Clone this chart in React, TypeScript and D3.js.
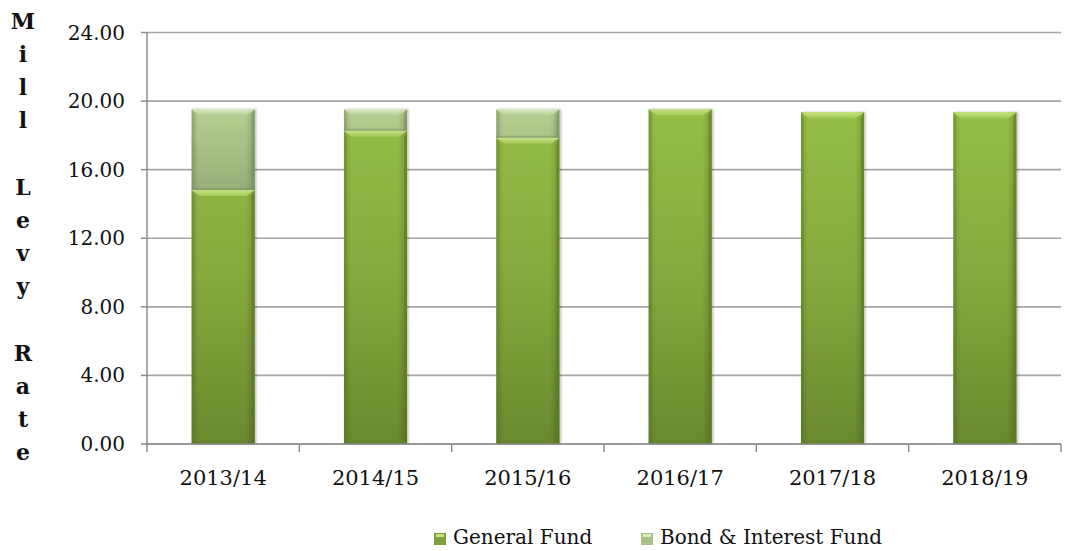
import React from "react";
import * as d3 from "d3";

const years = ["2013/14", "2014/15", "2015/16", "2016/17", "2017/18", "2018/19"];
const generalFund = [14.81, 18.27, 17.86, 19.52, 19.35, 19.35];
const bondFund = [4.71, 1.25, 1.66, 0, 0, 0];
const seriesNames = ["General Fund", "Bond & Interest Fund"];
const yTicks = [0, 4, 8, 12, 16, 20, 24];
const titleLetters = ["M", "i", "l", "l", "", "L", "e", "v", "y", "", "R", "a", "t", "e"];

const W = 1071;
const H = 551;
const left = 147;
const right = 1061;
const top = 32.5;
const bottom = 444;
const font = "'DejaVu Serif', Georgia, serif";

// fill schemes per series
const palette = [
  { grad: "gfMain", cap: "#c8e283", capLow: "#a3c957", edge: "#5d7a24" },
  { grad: "bfMain", cap: "#dcebc2", capLow: "#b7ce93", edge: "#7b8f5c" },
];

const Segment = ({ x, w, y0, y1, s }: { x: number; w: number; y0: number; y1: number; s: number }) => {
  const h = y1 - y0;
  if (h <= 0) return null;
  const p = palette[s];
  const b = Math.min(6, h / 3);
  const e = 3;
  return (
    <g>
      <rect x={x} y={y0} width={w} height={h} fill={`url(#${p.grad})`} />
      <rect x={x} y={y0} width={w} height={h} fill="url(#sideShade)" />
      <polygon points={`${x},${y0} ${x + e},${y0 + b} ${x + e},${y1 - 2} ${x},${y1}`} fill={p.edge} opacity={0.35} />
      <polygon points={`${x + w},${y0} ${x + w - e},${y0 + b} ${x + w - e},${y1 - 2} ${x + w},${y1}`} fill={p.edge} opacity={0.6} />
      <polygon
        points={`${x},${y0} ${x + w},${y0} ${x + w - b - 2},${y0 + b} ${x + b + 2},${y0 + b}`}
        fill={`url(#cap${s})`}
      />
      <rect x={x} y={y1 - 2} width={w} height={2} fill={p.edge} opacity={0.45} />
    </g>
  );
};

export default function App() {
  const x = d3.scaleBand<string>().domain(years).range([left, right]).paddingInner(0.586).paddingOuter(0.293);
  const y = d3.scaleLinear().domain([0, 24]).range([bottom, top]);
  const step = (right - left) / years.length;

  const table = years.map((yr, i) => ({ year: yr, g: generalFund[i], b: bondFund[i] }));
  const stacked = d3.stack<any>().keys(["g", "b"])(table);

  return (
    <svg width={W} height={H} style={{ position: "absolute", left: 0, top: 0, background: "#fff" }}>
      <defs>
        <linearGradient id="gfMain" gradientUnits="userSpaceOnUse" x1="0" y1={y(20)} x2="0" y2={bottom}>
          <stop offset="0" stopColor="#96bf48" />
          <stop offset="0.5" stopColor="#86aa3e" />
          <stop offset="1" stopColor="#6a892e" />
        </linearGradient>
        <linearGradient id="bfMain" gradientUnits="userSpaceOnUse" x1="0" y1={y(20)} x2="0" y2={y(14)}>
          <stop offset="0" stopColor="#b9d293" />
          <stop offset="1" stopColor="#93a874" />
        </linearGradient>
        <linearGradient id="sideShade" x1="0" y1="0" x2="1" y2="0">
          <stop offset="0" stopColor="#000" stopOpacity="0.12" />
          <stop offset="0.12" stopColor="#000" stopOpacity="0" />
          <stop offset="0.85" stopColor="#000" stopOpacity="0" />
          <stop offset="1" stopColor="#000" stopOpacity="0.18" />
        </linearGradient>
        {palette.map((p, i) => (
          <linearGradient key={i} id={`cap${i}`} x1="0" y1="0" x2="0" y2="1">
            <stop offset="0" stopColor={p.cap} />
            <stop offset="1" stopColor={p.capLow} />
          </linearGradient>
        ))}
        <filter id="shadow" x="-10%" y="-10%" width="130%" height="120%">
          <feDropShadow dx="1.5" dy="0" stdDeviation="1.2" floodColor="#000" floodOpacity="0.25" />
        </filter>
      </defs>

      {/* gridlines */}
      {yTicks.map((t) => (
        <line key={t} x1={left} x2={right} y1={y(t)} y2={y(t)} stroke="#a6a6a6" strokeWidth={1.6} />
      ))}

      {/* bars */}
      {years.map((yr, i) => (
        <g key={yr} filter="url(#shadow)">
          {stacked.map((layer, s) => (
            <Segment key={s} x={x(yr)!} w={x.bandwidth()} y0={y(layer[i][1])} y1={y(layer[i][0])} s={s} />
          ))}
        </g>
      ))}

      {/* axes */}
      <line x1={left} x2={left} y1={top} y2={bottom + 8} stroke="#8c8c8c" strokeWidth={1.5} />
      <line x1={left} x2={right} y1={bottom} y2={bottom} stroke="#8c8c8c" strokeWidth={1.5} />
      {yTicks.map((t) => (
        <line key={t} x1={left - 6} x2={left} y1={y(t)} y2={y(t)} stroke="#8c8c8c" strokeWidth={1.5} />
      ))}
      {years.map((yr, i) => (
        <line key={yr} x1={left + step * (i + 1)} x2={left + step * (i + 1)} y1={bottom} y2={bottom + 8} stroke="#8c8c8c" strokeWidth={1.5} />
      ))}

      {/* tick labels */}
      {yTicks.map((t) => (
        <text key={t} x={125} y={y(t)} dy="0.35em" textAnchor="end" fontFamily={font} fontSize={20} fill="#111">
          {d3.format(".2f")(t)}
        </text>
      ))}
      {years.map((yr) => (
        <text key={yr} x={x(yr)! + x.bandwidth() / 2} y={478} dy="0.35em" textAnchor="middle" fontFamily={font} fontSize={21} fill="#111">
          {yr}
        </text>
      ))}

      {/* y title, stacked letters */}
      {titleLetters.map((c, i) => (
        <text key={i} x={23} y={21 + i * 33.2} dy="0.35em" textAnchor="middle" fontFamily={font} fontWeight="bold" fontSize={22} fill="#111">
          {c}
        </text>
      ))}

      {/* legend */}
      {seriesNames.map((n, i) => {
        const lx = i === 0 ? 434 : 641;
        return (
          <g key={n}>
            <rect x={lx} y={533} width={12} height={12} fill={i === 0 ? "#7fa33b" : "#a9c184"} />
            <rect x={lx + 2} y={534} width={8} height={3} fill={palette[i].cap} />
            <text x={lx + 19} y={537} dy="0.35em" fontFamily={font} fontSize={20} fill="#111">
              {n}
            </text>
          </g>
        );
      })}
    </svg>
  );
}
